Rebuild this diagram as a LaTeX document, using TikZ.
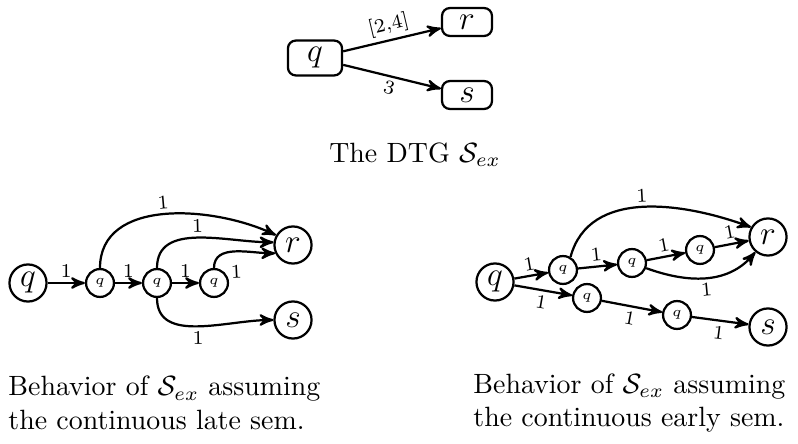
\documentclass[tikz,border=0pt]{standalone}
\usepackage{amsmath}
\usepackage{amsfonts}
\usepackage{tikz}
\usetikzlibrary{arrows}

\begin{document}
\begin{tikzpicture}[x=0.0126cm, y=-0.0126cm,
      >=stealth', thick,
      box/.style={draw, rounded corners=2.8pt, minimum width=17.9pt, minimum height=10pt, inner sep=1pt, font=\large},
      big/.style={draw, circle, minimum size=13.3pt, inner sep=0pt, font=\large},
      small/.style={draw, circle, minimum size=10pt, inner sep=0pt, font=\tiny},
      lbl/.style={font=\scriptsize, sloped, inner sep=1.5pt}]
      \useasboundingbox (0,0) rectangle (798,444);
      % the DTG
      \node[box, minimum width=19.4pt, minimum height=12.5pt] (q) at (315,58) {$q$};
      \node[box] (r) at (467,22) {$r$};
      \node[box] (s) at (467,95) {$s$};
      \draw[->] (q) -- node[lbl, above]{[2,4]} (r);
      \draw[->] (q) -- node[lbl, below]{$3$} (s);
      \node (dtg) at (415,155) {The DTG $\mathcal{S}_{ex}$};
      % late semantics
      \node[big] (lq) at (28,283) {$q$};
      \node[small] (l1) at (100,283) {$q$};
      \node[small] (l2) at (157,283) {$q$};
      \node[small] (l3) at (214,283) {$q$};
      \node[big] (lr) at (293,245) {$r$};
      \node[big] (ls) at (293,320) {$s$};
      \draw[->] (lq) -- node[lbl, above]{1} (l1);
      \draw[->] (l1) -- node[lbl, above]{1} (l2);
      \draw[->] (l2) -- node[lbl, above]{1} (l3);
      \draw[->] (l1.north) to[out=90, in=155] node[lbl, above]{1} (lr.150);
      \draw[->] (l2.north) to[out=90, in=180] node[lbl, above]{1} (lr.172);
      \draw[->] (l3.north) to[out=90, in=180] node[lbl, below=3pt]{1} (lr.205);
      \draw[->] (l2.south) to[out=-90, in=180] node[lbl, below]{1} (ls.west);
      % \draw[->] (l3) -- node[lbl, below]{1} (ls);
      \node[anchor=west, align=left] (late) at (-2,403) {Behavior of $\mathcal{S}_{ex}$ assuming\\the continuous late sem.};
      % early semantics
      \node[big] (eq) at (495,282) {$q$};
      \node[small] (e1) at (563,270) {$q$};
      \node[small] (e2) at (632,263) {$q$};
      \node[small] (e3) at (700,250) {$q$};
      \node[big] (er) at (768,237) {$r$};
      \node[small] (e4) at (587,298) {$q$};
      \node[small] (e5) at (677,315) {$q$};
      \node[big] (es) at (768,327) {$s$};
      \draw[->] (eq) -- node[lbl, above]{1} (e1);
      \draw[->] (e1) -- node[lbl, above]{1} (e2);
      \draw[->] (e2) -- node[lbl, above]{1} (e3);
      \draw[->] (e3) -- node[lbl, above]{1} (er);
      \draw[->] (e1.60) to[out=75, in=160] node[lbl, above]{1} (er.150);
      \draw[->] (e2.-20) to[out=-20, in=-130] node[lbl, below]{1} (er.-130);
      \draw[->] (eq) -- node[lbl, below]{1} (e4);
      \draw[->] (e4) -- node[lbl, below]{1} (e5);
      \draw[->] (e5) -- node[lbl, below]{1} (es);
      \node[anchor=west, align=left] (early) at (463,403) {Behavior of $\mathcal{S}_{ex}$ assuming\\the continuous early sem.};
    \end{tikzpicture}
\end{document}
